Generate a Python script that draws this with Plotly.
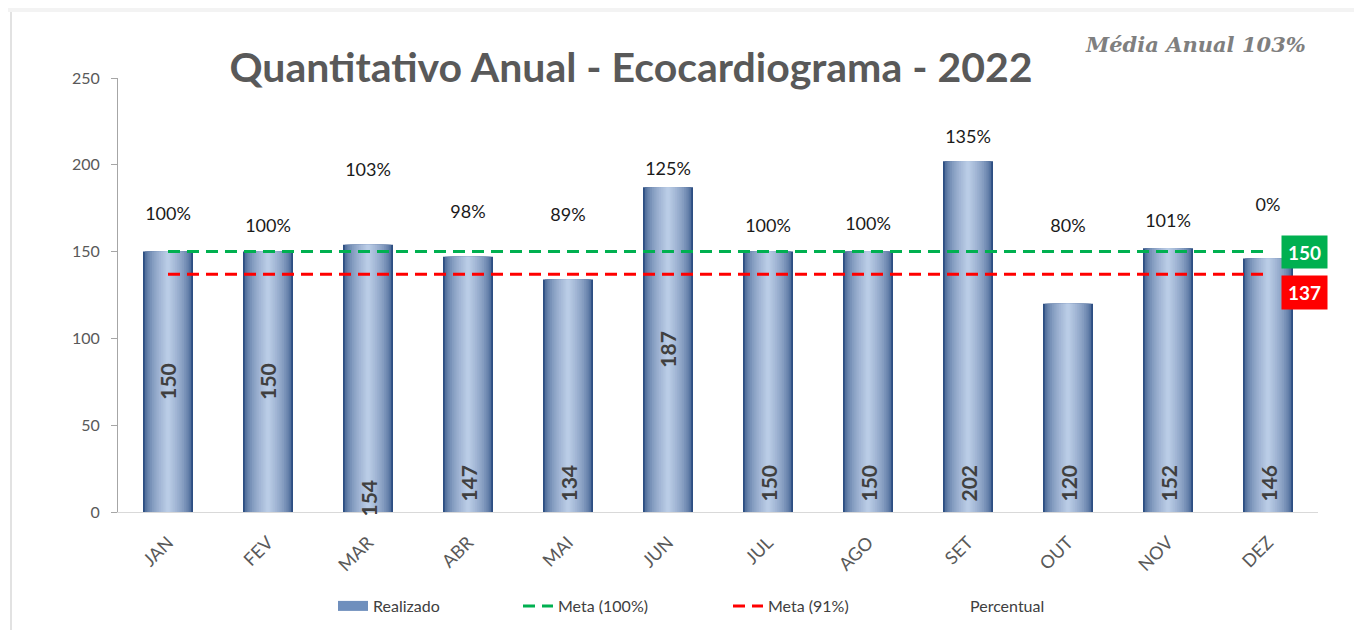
import plotly.graph_objects as go

# ---------------- data ----------------
months = ["JAN", "FEV", "MAR", "ABR", "MAI", "JUN", "JUL", "AGO", "SET", "OUT", "NOV", "DEZ"]
realizado = [150, 150, 154, 147, 134, 187, 150, 150, 202, 120, 152, 146]
meta_100 = [150, 150, 150, 150, 150, 150, 150, 150, 150, 150, 150, 150]
meta_91 = [137, 137, 137, 137, 137, 137, 137, 137, 137, 137, 137, 137]
percentual_labels = ["100%", "100%", "103%", "98%", "89%", "125%", "100%", "100%", "135%", "80%", "101%", "0%"]
percentual_series = [171, 164, 196, 172, 170, 197, 164, 165, 215, 164, 167, 176]
value_label_mode = ["middle", "middle", "below", "base", "base", "middle",
                    "base", "base", "base", "base", "base", "base"]
y_ticks = [0, 50, 100, 150, 200, 250]
title_text = "Quantitativo Anual - Ecocardiograma - 2022"
media_text = "Média Anual 103%"
meta_100_label = "150"
meta_91_label = "137"

# ---------------- layout geometry (screen px; page body has 8px margin) ----------------
OFF = 8
W, H = 1354, 622
L, T, PW, PH = 110, 70, 1200, 434
R, B = W - L - PW, H - T - PH


def px_x(sx):
    return (sx - OFF - L) / PW


def px_y(sy):
    return (OFF + T + PH - sy) / PH


def cx(sx):
    return (sx - OFF) / W


def cy(sy):
    return 1 - (sy - OFF) / H


FONT = "Lato"
fig = go.Figure()

# gradient bars (overlaid layers)
n_layers = 14
edge = (44, 78, 130)
center = (186, 204, 230)
for i in range(n_layers):
    t = i / (n_layers - 1)
    w = 0.5 * (1 - 0.93 * t)
    s = t ** 0.5
    col = tuple(int(edge[k] + (center[k] - edge[k]) * s) for k in range(3))
    fig.add_trace(go.Bar(
        x=months, y=realizado, width=w,
        marker=dict(color="rgb(%d,%d,%d)" % col, line=dict(width=0)),
        name="Realizado", showlegend=False, hoverinfo="skip" if i else None,
    ))

# legend swatch for Realizado
fig.add_trace(go.Scatter(
    x=[None], y=[None], mode="lines", name="Realizado",
    line=dict(color="#6f8fbd", width=11), legend="legend",
))
fig.add_trace(go.Scatter(
    x=months, y=meta_100, mode="lines", name="Meta (100%)",
    line=dict(color="#00b050", width=3, dash="12px,7px"), legend="legend2",
))
fig.add_trace(go.Scatter(
    x=months, y=meta_91, mode="lines", name="Meta (91%)",
    line=dict(color="#ff0000", width=3, dash="12px,7px"), legend="legend3",
))
fig.add_trace(go.Scatter(
    x=months, y=percentual_series, mode="lines+text", name="Percentual",
    text=percentual_labels, textposition="middle center",
    textfont=dict(family=FONT, size=18, color="#1a1a1a"),
    line=dict(color="rgba(0,0,0,0)", width=0), legend="legend4",
))

annotations = []
for m, v, mode in zip(months, realizado, value_label_mode):
    a = dict(x=m, text="<b>%d</b>" % v, showarrow=False, textangle=-90,
             font=dict(family=FONT, size=21, color="#404040"))
    if mode == "middle":
        a.update(y=v / 2, yanchor="middle")
    elif mode == "base":
        a.update(y=0, yanchor="bottom", yshift=8)
    else:
        a.update(y=0, yanchor="bottom", yshift=-7)
    annotations.append(a)

annotations.append(dict(
    xref="paper", yref="paper", x=px_x(1195), y=px_y(45), xanchor="center", yanchor="middle",
    text="<b><i>%s</i></b>" % media_text, showarrow=False,
    font=dict(family="DejaVu Serif", size=21, color="#7f7f7f"),
))
annotations.append(dict(
    x="DEZ", y=meta_100[-1], xshift=36.5, text="<b>%s</b>" % meta_100_label,
    showarrow=False, bgcolor="#00b050", width=41, height=28, borderpad=2,
    font=dict(family=FONT, size=19, color="white"),
))
annotations.append(dict(
    x="DEZ", y=meta_91[-1], xshift=36.5, yshift=-18, text="<b>%s</b>" % meta_91_label,
    showarrow=False, bgcolor="#ff0000", width=41, height=29, borderpad=2,
    font=dict(family=FONT, size=19, color="white"),
))

# frame shapes (screenshot border)
shapes = [
    dict(type="rect", xref="paper", yref="paper", x0=px_x(0), x1=px_x(1362), y0=px_y(0), y1=px_y(12),
         fillcolor="#f3f3f3", line=dict(width=0), layer="below"),
    dict(type="rect", xref="paper", yref="paper", x0=px_x(10), x1=px_x(12), y0=px_y(12), y1=px_y(640),
         fillcolor="#e2e2e2", line=dict(width=0), layer="below"),
    dict(type="rect", xref="paper", yref="paper", x0=px_x(1355), x1=px_x(1357), y0=px_y(12), y1=px_y(640),
         fillcolor="#e2e2e2", line=dict(width=0), layer="below"),
]


def legend_at(sx_text):
    return dict(orientation="h", xref="container", yref="container",
                x=cx(sx_text - 40), xanchor="left", y=cy(606), yanchor="middle",
                font=dict(family=FONT, size=16, color="#404040"), bgcolor="rgba(0,0,0,0)",
                borderwidth=0)


fig.update_layout(
    width=W, height=H,
    margin=dict(l=L, r=R, t=T, b=B, autoexpand=False),
    paper_bgcolor="white", plot_bgcolor="white",
    barmode="overlay",
    title=dict(text="<b>%s</b>" % title_text, x=cx(631), xanchor="center",
               y=cy(68), yanchor="middle",
               font=dict(family=FONT, size=41, color="#595959")),
    xaxis=dict(range=[-0.5, 11.5], showline=True, linecolor="#d9d9d9", linewidth=1, ticks="",
               tickangle=-45, tickfont=dict(family=FONT, size=18, color="#595959"),
               ticklabelstandoff=12, automargin=False,
               showgrid=False, zeroline=False),
    yaxis=dict(range=[0, 250], tickvals=y_ticks, showline=True, linecolor="#a6a6a6",
               ticks="outside", ticklen=6, tickcolor="#a6a6a6", ticklabelstandoff=8,
               tickfont=dict(family=FONT, size=16, color="#595959"), automargin=False,
               showgrid=False, zeroline=False),
    legend=legend_at(373),
    legend2=legend_at(558),
    legend3=legend_at(768),
    legend4=legend_at(970),
    annotations=annotations,
    shapes=shapes,
    showlegend=True,
)

fig.write_html("out.html")
